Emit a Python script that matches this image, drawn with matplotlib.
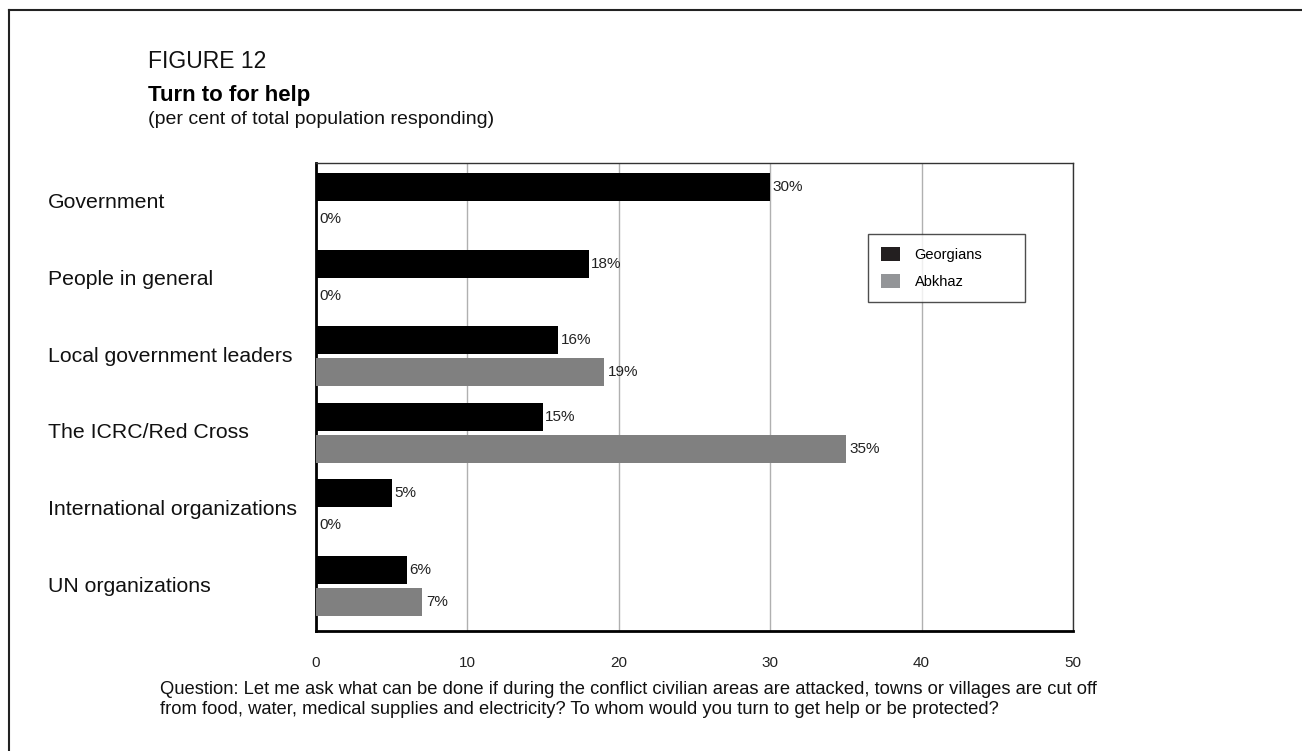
import numpy as np
import matplotlib.pyplot as plt
from matplotlib.lines import Line2D
from matplotlib.patches import Patch

plt.rcParams['font.family'] = ['Liberation Sans', 'DejaVu Sans']

categories = ["Government", "People in general", "Local government leaders",
              "The ICRC/Red Cross", "International organizations", "UN organizations"]
georgians = [30, 18, 16, 15, 5, 6]
abkhaz = [0, 0, 19, 35, 0, 7]
xticks = [0, 10, 20, 30, 40, 50]

fig = plt.figure(figsize=(13.02, 7.51), dpi=100)
ax = fig.add_axes([0.2427, 0.1598, 0.5814, 0.6232])

y = np.arange(len(categories))
h = 0.366
off = 0.209
ax.barh(y - off, georgians, height=h, color='#000000', zorder=3)
ax.barh(y + off, abkhaz, height=h, color='#808080', zorder=3)

for yi, v in zip(y, georgians):
    ax.text(v + 0.15, yi - off, f"{v}%", va='center', ha='left', fontsize=11, color='#222222')
for yi, v in zip(y, abkhaz):
    ax.text(v + 0.25, yi + off, f"{v}%", va='center', ha='left', fontsize=11, color='#222222')

ax.set_xlim(0, 50)
ax.set_ylim(5.587, -0.522)
ax.set_xticks(xticks)
ax.set_xticklabels([str(t) for t in xticks], fontsize=11, color='#222222')
ax.tick_params(axis='x', length=0, pad=18)
ax.set_yticks([])
ax.grid(axis='x', color='#b0b0b0', linewidth=1, zorder=0)

for s in ['left', 'bottom']:
    ax.spines[s].set_linewidth(2)
    ax.spines[s].set_color('#000000')
for s in ['top', 'right']:
    ax.spines[s].set_linewidth(1)
    ax.spines[s].set_color('#333333')

# category labels
lab_x = -(316 - 48) / 757
for yi, c in zip(y, categories):
    ax.text(lab_x, yi, c, transform=ax.get_yaxis_transform(), ha='left', va='center',
            fontsize=15.3, color='#111111')

handles = [Patch(facecolor='#231f20', label='Georgians'),
           Patch(facecolor='#939598', label='Abkhaz')]
leg = ax.legend(handles=handles, loc='upper left',
                bbox_to_anchor=(0.729, 0.848 - 0.145, 0.2074, 0.145), mode='expand',
                fontsize=10.5, frameon=True, fancybox=False, edgecolor='#222222',
                borderpad=0.9, labelspacing=0.8, handlelength=1.3, handleheight=1.1,
                handletextpad=1.0, borderaxespad=0)
leg.get_frame().set_linewidth(1)

fig.text(148 / 1302, 1 - 62 / 751, "FIGURE 12", fontsize=16.5, va='center', ha='left', color='#111111')
fig.text(148 / 1302, 1 - 95 / 751, "Turn to for help", fontsize=16, fontweight='bold', va='center', ha='left')
fig.text(148 / 1302, 1 - 120 / 751, "(per cent of total population responding)", fontsize=14,
         va='center', ha='left', color='#111111')

fig.text(160 / 1302, 1 - 690 / 751,
         "Question: Let me ask what can be done if during the conflict civilian areas are attacked, towns or villages are cut off",
         fontsize=13.2, va='center', ha='left', color='#111111')
fig.text(160 / 1302, 1 - 710 / 751,
         "from food, water, medical supplies and electricity? To whom would you turn to get help or be protected?",
         fontsize=13.2, va='center', ha='left', color='#111111')

# page border (top and left)
fig.add_artist(Line2D([9 / 1302, 1], [1 - 10 / 751, 1 - 10 / 751], color='#222222', linewidth=1.5))
fig.add_artist(Line2D([9 / 1302, 9 / 1302], [0, 1 - 10 / 751], color='#222222', linewidth=1.5))

fig.savefig("out.png", dpi=100)
